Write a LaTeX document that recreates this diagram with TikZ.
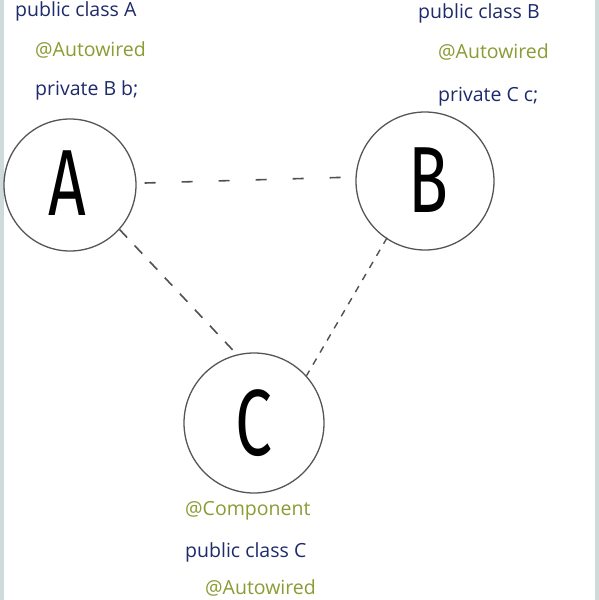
\documentclass[tikz,border=0pt]{standalone}
\usepackage{fontspec}
\setmainfont{Open Sans}
\newfontfamily\bigletter{Fira Sans}
\definecolor{navy}{HTML}{1F2A6B}
\definecolor{olive}{HTML}{8C9B33}
\definecolor{strip}{HTML}{CFDADA}
\definecolor{ring}{HTML}{555555}
\definecolor{dashc}{HTML}{505050}
\begin{document}
\begin{tikzpicture}[x=1pt,y=-1pt,
  circ/.style={circle,draw=ring,line width=1.3pt,inner sep=0pt,fill=white},
  letter/.style={font=\bigletter\fontsize{94}{94}\selectfont,xscale=0.7,text=black},
  code/.style={anchor=west,inner sep=0pt,font=\fontsize{19.5}{22}\selectfont},
  kw/.style={code,text=navy},
  ann/.style={code,text=olive},
  link/.style={draw=dashc,line width=1.6pt}]
\useasboundingbox (0,0) rectangle (599,600);
\fill[white] (0,0) rectangle (599,600);
\fill[strip] (0,0) rectangle (4,600);
\fill[strip] (595,0) rectangle (599,600);
% circles
\node[circ,minimum size=132pt] (A) at (70,185) {};
\node[circ,minimum size=138pt] (B) at (425,181) {};
\node[circ,minimum size=140pt] (C) at (254,423) {};
\node[letter] (la) at (67,183) {A};
\node[letter] (lb) at (428,180) {B};
\node[letter] (lc) at (254,423) {C};
% connectors
\draw[link,dash pattern=on 11pt off 26pt] ([xshift=8pt,yshift=2pt]A.east) -- ([yshift=4pt]B.west);
\draw[link,dash pattern=on 11pt off 11pt] ([shift={(5pt,5pt)}]A.-48) -- (C.104);
\draw[link,line width=1.4pt,dash pattern=on 7pt off 7pt] ([shift={(-2pt,3pt)}]B.-121) -- (C.42);
% texts
\node[kw] (a1) at (15,11) {public class A};
\node[ann] (a2) at (35,50) {@Autowired};
\node[kw] (a3) at (35,90) {private B b;};
\node[kw] (b1) at (418,13) {public class B};
\node[ann] (b2) at (438,52) {@Autowired};
\node[kw] (b3) at (438,97) {private C c;};
\node[ann] (c1) at (185,511) {@Component};
\node[kw] (c2) at (185,552) {public class C};
\node[ann] (c3) at (205,588) {@Autowired};
\end{tikzpicture}
\end{document}
